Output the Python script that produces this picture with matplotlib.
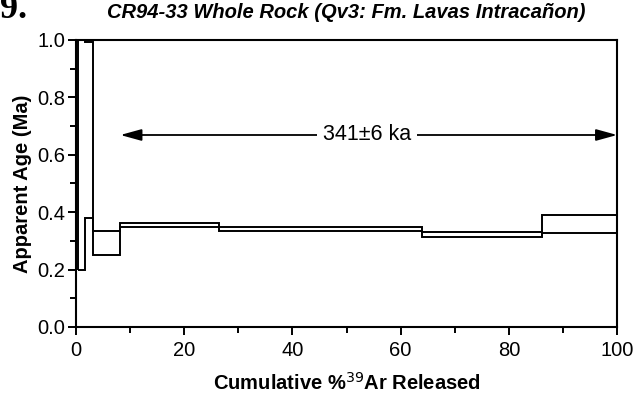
import numpy as np
import matplotlib
matplotlib.use("Agg")
import matplotlib.pyplot as plt
from matplotlib.ticker import MultipleLocator

plt.rcParams["font.family"] = ["Liberation Sans", "DejaVu Sans"]

# step edges (cumulative % 39Ar) and apparent-age envelopes (Ma)
edges = [0.4, 1.7, 3.2, 8.2, 26.4, 63.9, 86.1, 100.0]
age_upper = [1.05, 0.994, 0.336, 0.363, 0.349, 0.332, 0.390]
age_lower = [0.199, 0.379, 0.251, 0.347, 0.333, 0.315, 0.326]

# plateau
plateau_start = 8.2
plateau_end = 100.0
plateau_y = 0.669
plateau_label = "341\u00b16 ka"

fig = plt.figure(figsize=(6.37, 3.98), dpi=100)
ax = fig.add_axes([0.1193, 0.1784, 0.8495, 0.7211])

lw = 1.4
ax.stairs(age_upper, edges, baseline=None, color="black", lw=lw)
ax.stairs(age_lower, edges, baseline=None, color="black", lw=lw)
ax.vlines(edges[0], age_lower[0], age_upper[0], color="black", lw=lw)

ax.annotate("", xy=(plateau_start, plateau_y), xytext=(plateau_end, plateau_y),
            arrowprops=dict(arrowstyle="<|-|>,head_length=0.8,head_width=0.22",
                            color="black", lw=1.3, mutation_scale=16,
                            shrinkA=0, shrinkB=0))
ax.text(53.8, plateau_y, plateau_label, ha="center", va="center", fontsize=15.5,
        bbox=dict(facecolor="white", edgecolor="none", pad=4))

ax.set_xlim(0, 100)
ax.set_ylim(0, 1.0)
ax.xaxis.set_major_locator(MultipleLocator(20))
ax.xaxis.set_minor_locator(MultipleLocator(10))
ax.yaxis.set_major_locator(MultipleLocator(0.2))
ax.yaxis.set_minor_locator(MultipleLocator(0.1))
ax.yaxis.set_major_formatter(plt.FormatStrFormatter("%.1f"))
ax.tick_params(which="major", direction="out", length=6, width=1.4, labelsize=14.5)
ax.tick_params(axis="x", which="major", pad=4)
ax.tick_params(axis="y", which="major", pad=1.5)
ax.tick_params(which="minor", direction="out", length=4.5, width=1.4)
for s in ax.spines.values():
    s.set_linewidth(1.5)

ax.set_xlabel("Cumulative %$^{39}$Ar Released", fontsize=14.5, fontweight="bold", labelpad=9)
ax.set_ylabel("Apparent Age (Ma)", fontsize=14.5, fontweight="bold", labelpad=4)
ax.set_title("CR94-33 Whole Rock (Qv3: Fm. Lavas Intracañon)", fontsize=14.5,
             fontweight="bold", style="italic", pad=16)

# clipped panel letter at the top-left corner
fig.text(0.0, 0.955, "9.", fontsize=26, fontweight="bold", family="Liberation Serif",
         ha="left", va="baseline")

fig.savefig("out.png", dpi=100)
